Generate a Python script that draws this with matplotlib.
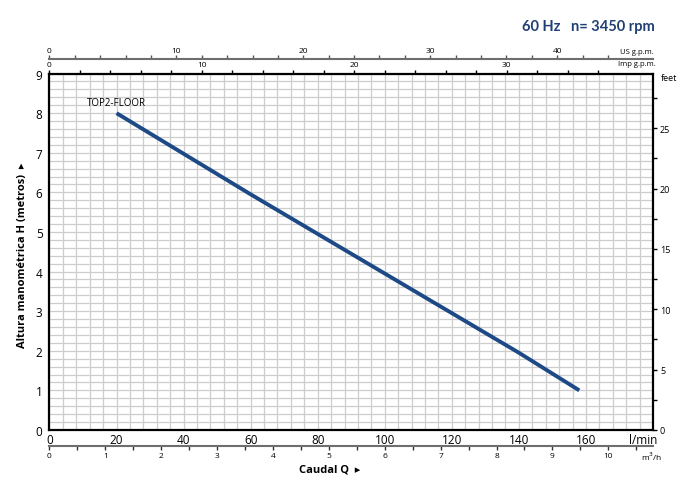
import numpy as np
import matplotlib.pyplot as plt
from matplotlib.ticker import MultipleLocator, FixedLocator

plt.rcParams['font.family'] = ['Open Sans', 'DejaVu Sans']

# curva TOP2-FLOOR (l/min, m)
caudal = [20, 60, 100, 140, 158]
altura = [8.0, 5.95, 3.95, 1.95, 1.0]
nombre = 'TOP2-FLOOR'

xticks_lmin = [0, 20, 40, 60, 80, 100, 120, 140, 160]
yticks_m = [0, 1, 2, 3, 4, 5, 6, 7, 8, 9]

fig = plt.figure(figsize=(6.89, 4.81), dpi=100)
ax = fig.add_axes([0.0718, 0.104, 0.876, 0.741])

ax.set_xlim(0, 180)
ax.set_ylim(0, 9)
ax.xaxis.set_minor_locator(MultipleLocator(4))
ax.yaxis.set_minor_locator(MultipleLocator(0.2))
ax.grid(True, which='both', color='#cdcdcd', lw=0.9)
ax.set_axisbelow(True)

ax.plot(caudal, altura, color='#1d4a86', lw=2.8, solid_capstyle='butt')
ax.text(20, 8.12, nombre, fontsize=7, ha='center', va='bottom')

for s in ax.spines.values():
    s.set_linewidth(1.6)
    s.set_color('black')

ax.set_xticks(xticks_lmin)
ax.set_yticks(yticks_m)
ax.tick_params(axis='both', which='both', length=0)
ax.tick_params(axis='x', labelsize=8.5, pad=2)
ax.tick_params(axis='y', labelsize=8.5, pad=5)
ax.text(177, -0.08, 'l/min', fontsize=8.5, ha='center', va='top')

# Imp g.p.m. (encima del borde)
imp = ax.secondary_xaxis('top', functions=(lambda x: x / 4.546, lambda x: x * 4.546))
imp.xaxis.set_major_locator(FixedLocator([0, 10, 20, 30]))
imp.xaxis.set_minor_locator(FixedLocator(np.arange(0, 37, 2)))
imp.tick_params(which='both', direction='out', length=3, width=1, labelsize=6, pad=1)
imp.spines['top'].set_visible(False)
ax.text(1.005, 1.027, 'Imp g.p.m.', transform=ax.transAxes, fontsize=5.5, ha='right', va='center')

# US g.p.m.
us = ax.secondary_xaxis(1.04, functions=(lambda x: x / 3.785, lambda x: x * 3.785))
us.xaxis.set_major_locator(FixedLocator([0, 10, 20, 30, 40]))
us.xaxis.set_minor_locator(FixedLocator(np.arange(0, 45, 2)))
us.tick_params(which='both', direction='out', length=3, width=1, labelsize=6, pad=1, color='#555555')
us.spines['top'].set_color('#6e6e6e')
us.spines['top'].set_linewidth(1.5)
ax.text(1.002, 1.063, 'US g.p.m.', transform=ax.transAxes, fontsize=5.5, ha='right', va='center')

# m3/h
m3h = ax.secondary_xaxis(-0.045, functions=(lambda x: x * 0.06, lambda x: x / 0.06))
m3h.xaxis.set_major_locator(FixedLocator(np.arange(0, 11, 1)))
m3h.xaxis.set_minor_locator(FixedLocator(np.arange(0, 10.6, 0.5)))
m3h.tick_params(which='both', direction='out', length=3, width=1, labelsize=6, pad=1, color='#333333')
m3h.spines['bottom'].set_color('#6e6e6e')
m3h.spines['bottom'].set_linewidth(1.5)
ax.text(0.998, -0.073, 'm$^3$/h', transform=ax.transAxes, fontsize=6, ha='center', va='center')

# feet
ft = ax.secondary_yaxis('right', functions=(lambda y: y * 3.2808, lambda y: y / 3.2808))
ft.yaxis.set_major_locator(FixedLocator([0, 5, 10, 15, 20, 25]))
ft.yaxis.set_minor_locator(FixedLocator(np.arange(0, 28, 2.5)))
ft.tick_params(which='both', direction='out', length=3, width=1, labelsize=6.5, pad=2)
ft.spines['right'].set_visible(False)
ax.text(1.026, 0.99, 'feet', transform=ax.transAxes, fontsize=6.5, ha='center', va='center')

fig.text(0.032, 0.47, 'Altura manométrica H (metros)  \u25b8', rotation=90, fontsize=8,
         fontweight='bold', ha='center', va='center')
fig.text(0.478, 0.022, 'Caudal Q  \u25b8', fontsize=8, fontweight='bold', ha='center', va='center')
fig.text(0.758, 0.944, '60 Hz   n= 3450 rpm', fontsize=10.5, fontweight='bold',
         color='#1f3f75', ha='left', va='center', family=['Lato', 'DejaVu Sans'])

fig.savefig('out.png', dpi=100)
